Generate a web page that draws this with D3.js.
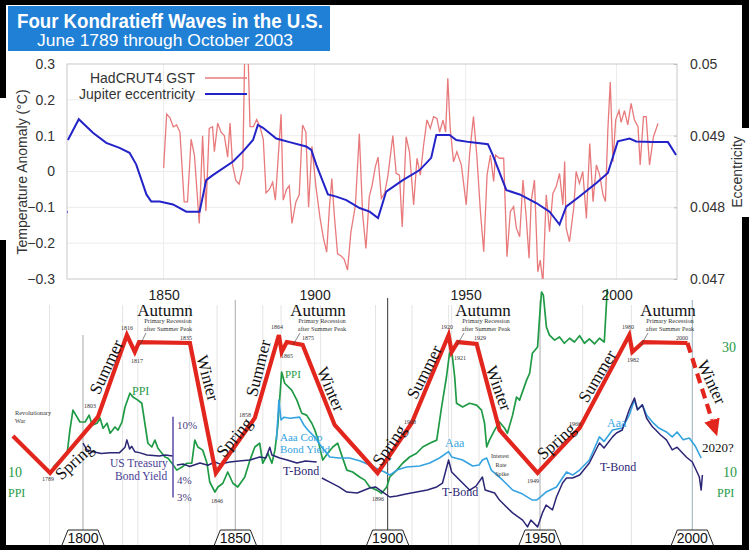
<!DOCTYPE html>
<html><head><meta charset="utf-8">
<script src="https://cdn.jsdelivr.net/npm/d3@7"></script>
<style>body{margin:0;background:#fff}svg{display:block}</style>
</head><body><svg id="c" width="749" height="550"></svg>
<script>
// ---------------- DATA ----------------
const titleText = "Four Kondratieff Waves in the U.S.";
const subtitleText = "June 1789 through October 2003";
const tempTicks = [-0.3,-0.2,-0.1,0,0.1,0.2,0.3];
const eccTicks = [0.047,0.048,0.049,0.05];
const yearTicks = [1850,1900,1950,2000];

// HadCRUT4 GST (detrended anomaly, °C)
const hadcrut = [[1850.0,0.01],[1851.0,0.16],[1852.1,0.15],[1853.2,0.125],[1854.3,0.13],[1855.4,0.11],[1856.8,-0.085],[1857.9,-0.085],[1859.1,0.09],[1860.2,0.045],[1861.8,-0.145],[1862.9,0.10],[1864.0,-0.11],[1865.1,0.12],[1866.2,0.125],[1866.8,0.055],[1867.9,0.135],[1869.0,0.11],[1870.1,0.10],[1871.2,0.04],[1872.0,0.135],[1872.8,0.02],[1873.9,-0.025],[1875.0,-0.035],[1876.2,0.01],[1877.0,0.40],[1877.8,0.38],[1878.6,0.125],[1879.7,0.125],[1880.8,0.145],[1881.9,0.125],[1883.0,0.09],[1883.9,-0.06],[1885.0,-0.05],[1886.1,-0.03],[1887.0,-0.08],[1888.9,0.16],[1889.6,-0.08],[1890.7,-0.05],[1891.6,-0.04],[1892.5,-0.145],[1893.8,-0.085],[1894.9,-0.065],[1896.0,0.13],[1897.1,0.11],[1898.0,-0.10],[1899.1,0.07],[1900.4,-0.04],[1901.8,-0.13],[1902.9,-0.185],[1904.0,-0.225],[1904.9,-0.10],[1905.7,-0.02],[1906.5,-0.12],[1907.6,-0.23],[1908.7,-0.235],[1909.8,-0.245],[1910.9,-0.275],[1912.0,-0.17],[1913.5,-0.095],[1914.8,0.105],[1915.9,-0.12],[1917.0,-0.215],[1918.1,-0.07],[1919.0,-0.04],[1920.1,0.013],[1921.0,0.04],[1922.1,-0.075],[1923.2,-0.06],[1924.3,-0.01],[1925.9,0.10],[1927.0,-0.005],[1928.1,-0.01],[1929.0,-0.155],[1930.3,0.097],[1931.4,0.055],[1932.8,-0.093],[1933.9,0.037],[1935.0,-0.01],[1936.1,0.074],[1937.2,0.144],[1938.3,0.12],[1939.4,0.153],[1940.5,0.148],[1941.4,0.11],[1942.5,0.143],[1943.4,0.11],[1944.1,0.26],[1944.9,0.12],[1946.0,0.027],[1947.1,0.055],[1948.6,0.018],[1950.2,-0.093],[1951.3,0.046],[1952.6,0.153],[1953.7,0.046],[1954.9,-0.112],[1956.0,-0.224],[1957.1,-0.01],[1958.2,0.046],[1959.3,-0.028],[1959.9,0.046],[1961.2,0.037],[1962.6,0.037],[1963.7,-0.238],[1964.8,-0.112],[1965.9,-0.098],[1966.8,-0.158],[1967.9,-0.182],[1969.0,-0.024],[1970.1,-0.131],[1971.0,-0.242],[1971.7,-0.084],[1972.8,-0.024],[1973.9,-0.28],[1974.7,-0.247],[1975.6,-0.31],[1976.7,-0.065],[1977.8,-0.168],[1978.9,-0.061],[1980.0,-0.042],[1981.1,-0.005],[1982.2,-0.093],[1982.8,0.028],[1983.3,-0.158],[1984.4,-0.196],[1985.8,-0.102],[1986.6,0.0],[1987.7,-0.033],[1988.8,0.0],[1990.0,-0.131],[1991.1,0.078],[1992.2,-0.084],[1993.3,0.018],[1994.4,-0.01],[1995.5,-0.065],[1996.3,-0.084],[1997.1,0.116],[1997.9,0.25],[1998.8,0.027],[1999.7,0.144],[2000.8,0.17],[2001.5,0.137],[2002.6,0.17],[2003.7,0.13],[2004.8,0.19],[2005.9,0.144],[2007.1,0.125],[2007.8,0.018],[2008.9,0.153],[2009.8,0.153],[2010.9,0.018],[2012.2,0.097],[2013.7,0.134]];

// Jupiter eccentricity
const jupiterStub = [[1817.6,0.04790],[1818.0,0.04795]];
const jupiter = [[1818.3,0.04894],[1821.9,0.04923],[1826.6,0.04904],[1831.0,0.04890],[1835.4,0.04883],[1838.7,0.04876],[1840.9,0.04860],[1844.3,0.04818],[1845.9,0.04808],[1848.7,0.04808],[1853.1,0.04804],[1857.5,0.04794],[1861.9,0.04794],[1864.1,0.04838],[1866.3,0.04845],[1873.0,0.04864],[1876.3,0.04878],[1879.6,0.04894],[1881.2,0.04915],[1882.9,0.04911],[1887.3,0.04896],[1891.7,0.04891],[1897.2,0.04885],[1898.9,0.04880],[1900.6,0.04859],[1904.4,0.04818],[1907.2,0.04815],[1910.5,0.04810],[1914.9,0.04799],[1918.2,0.04794],[1921.0,0.04785],[1923.7,0.04822],[1929.2,0.04838],[1934.8,0.04852],[1938.6,0.04869],[1940.3,0.04901],[1944.7,0.04901],[1946.9,0.04894],[1951.3,0.04891],[1957.4,0.04888],[1959.0,0.04873],[1963.5,0.04824],[1967.9,0.04818],[1973.4,0.04806],[1977.8,0.04794],[1981.1,0.04776],[1983.3,0.04801],[1987.7,0.04815],[1993.3,0.04834],[1997.1,0.04848],[2000.4,0.04892],[2004.3,0.04896],[2006.5,0.04892],[2012.0,0.04891],[2017.0,0.04891],[2019.7,0.04873]];

// Kondratieff wave (schematic level 0 = trough, 100 = peak)
const waveYears  = [1777.0,1789.2,1804.9,1814.4,1817.0,1818.4,1835.1,1843.6,1856.4,1864.3,1865.2,1866.9,1872.1,1882.6,1896.7,1907.9,1920.0,1921.0,1923.0,1929.2,1936.7,1949.2,1963.0,1979.3,1980.3,1983.9,1998.4];
const waveLevels = [26.8,0,40.6,100,87.7,94.9,94.2,0,39.9,100,87.7,94.9,92.8,34.8,0,36.2,100,87.7,94.9,93.5,31.2,0,32.6,100,87.7,94.9,94.2];
const waveForecast = [[1998.4,94.2],[2006.45,38.4]];

// PPI
const ppi = [[1790.2,10.8],[1791.8,11.6],[1794.8,13.0],[1795.7,16.7],[1796.7,19.9],[1799.0,18.0],[1800.7,18.0],[1802.0,19.1],[1803.0,17.5],[1804.6,17.8],[1805.6,18.6],[1806.6,17.0],[1807.9,17.8],[1808.9,16.2],[1810.5,17.2],[1811.5,16.7],[1812.8,18.0],[1813.8,20.4],[1815.4,22.6],[1816.4,22.0],[1818.0,21.5],[1819.3,21.0],[1820.3,17.8],[1821.3,14.6],[1822.6,14.0],[1823.6,15.1],[1824.6,13.8],[1825.9,13.0],[1826.9,12.4],[1827.9,12.2],[1829.2,11.4],[1830.8,10.3],[1832.5,10.8],[1834.1,11.4],[1835.7,11.4],[1836.7,15.1],[1837.7,14.0],[1839.3,13.5],[1840.7,11.4],[1841.6,8.4],[1843.3,6.8],[1844.3,7.6],[1845.9,8.2],[1847.5,10.0],[1849.2,8.2],[1850.8,7.6],[1853.1,9.2],[1854.8,11.9],[1856.4,14.0],[1858.0,14.6],[1859.0,11.4],[1860.7,13.0],[1862.0,11.4],[1863.0,13.5],[1863.9,17.2],[1865.2,26.0],[1866.2,24.2],[1868.5,23.1],[1870.2,21.5],[1871.8,19.4],[1873.4,19.1],[1875.1,17.8],[1876.1,16.7],[1877.0,15.4],[1878.7,11.9],[1880.3,13.0],[1882.0,14.0],[1883.6,14.6],[1884.9,12.7],[1886.6,10.3],[1888.5,10.0],[1890.8,9.2],[1892.5,8.7],[1894.1,7.6],[1896.4,7.1],[1898.0,6.6],[1899.7,7.6],[1900.7,9.2],[1903.0,10.3],[1904.9,11.4],[1907.2,12.4],[1909.5,13.0],[1911.5,14.0],[1913.8,14.6],[1916.1,15.1],[1917.7,20.4],[1919.3,25.2],[1920.3,29.0],[1921.0,29.5],[1922.0,25.2],[1922.6,21.0],[1924.6,20.4],[1926.9,21.0],[1929.2,20.7],[1930.8,19.9],[1931.8,17.8],[1932.5,14.0],[1933.4,15.1],[1935.1,16.7],[1936.7,18.0],[1938.4,17.0],[1939.3,16.2],[1941.0,19.1],[1942.3,22.0],[1943.3,21.5],[1945.6,24.7],[1946.6,25.8],[1947.5,29.0],[1949.2,30.0],[1949.8,34.3],[1950.5,38.8],[1951.1,38.3],[1952.1,33.2],[1953.1,31.9],[1954.8,31.1],[1956.4,31.6],[1958.0,30.6],[1959.7,31.4],[1961.3,30.8],[1963.0,31.8],[1964.6,30.6],[1966.2,31.3],[1967.9,30.5],[1969.5,31.4],[1971.1,30.8],[1972.1,39.5]];

// US Treasury bond yield (%), early series
const treasuryEarly = [[1800.0,7.4],[1801.3,6.6],[1803.3,6.4],[1806,6.2],[1808.9,6.3],[1812,6.3],[1813.8,6.9],[1814.4,7.8],[1815.3,6.7],[1816.0,7.0],[1817.0,6.4],[1818.5,6.3],[1821.0,6.06],[1825.0,5.96],[1827.0,6.06],[1829.5,5.96]];
const treasuryMid = [[1830.8,5.12],[1833,5.2],[1835,5.0],[1838.4,5.3],[1841,5.1],[1843.3,5.39],[1845,5.2],[1848.2,5.39],[1852,5.5],[1854.8,5.57],[1858.0,5.86],[1860,5.76],[1861.3,6.9],[1862,6.06],[1864.6,5.76],[1867,5.57],[1870.2,5.3],[1873,5.48],[1876.7,5.39]];
const tBond = [[1878.4,4.12],[1881,3.85],[1884,3.55],[1886.6,3.26],[1890,3.21],[1894.1,3.49],[1896,3.55],[1898.4,3.26],[1900.7,3.0],[1903,3.05],[1906,3.15],[1909.5,3.26],[1913,3.37],[1916.1,3.55],[1918,3.79],[1920.0,5.57],[1921,4.56],[1923.6,3.99],[1926.9,3.37],[1929,3.6],[1931.1,4.19],[1932,3.37],[1935.1,3.21],[1936.7,2.85],[1939.0,2.54],[1941.0,2.30],[1944.3,2.04],[1945.9,1.82],[1947,2.04],[1949.2,1.82],[1950.8,2.30],[1952,2.62],[1954.1,2.42],[1955.4,3.0],[1957.4,3.79],[1958.7,4.12],[1960.7,4.12],[1963.0,4.33],[1966.2,5.3],[1969.5,7.4],[1971,6.8],[1973.8,8.2],[1975.1,8.75],[1977,9.2],[1979.3,12.9],[1981.0,15.7],[1982,12.9],[1983.6,14.0],[1985,11.2],[1986.9,9.7],[1988,9.2],[1989.5,8.5],[1991.5,7.8],[1993.4,6.6],[1995,6.9],[1998.0,5.86],[2000,5.39],[2002.3,4.19],[2002.9,3.37],[2003.3,4.33]];
const aaaCorp = [[1863.5,7.8],[1864.3,15.2],[1865,10.9],[1866,11.4],[1868,11.2],[1871.1,11.4],[1872.5,10.0],[1873.8,9.2],[1876,8.2],[1878.4,6.9],[1881.0,5.86],[1884,5.76],[1887.5,5.76],[1891,5.48],[1894.1,5.12],[1897.4,4.71],[1899,4.56],[1900.7,4.33],[1903,4.71],[1906.2,4.96],[1910.5,5.04],[1913.8,5.3],[1917.0,5.76],[1920.0,6.4],[1921,5.86],[1924.6,5.57],[1927.9,5.04],[1930,5.12],[1931.1,5.57],[1932.5,5.76],[1934,4.71],[1937.7,3.99],[1941.0,3.37],[1944.3,3.15],[1947.5,2.85],[1948.9,2.85],[1952,3.26],[1955.4,3.55],[1958.7,4.56],[1960.7,4.33],[1963,4.71],[1966.2,5.57],[1969.5,8.2],[1971,7.6],[1973.8,9.2],[1977,9.5],[1979.3,11.8],[1981.0,15.2],[1982,12.9],[1983.6,14.0],[1985,11.8],[1986.9,10.5],[1989,9.5],[1991.5,8.9],[1993.4,8.2],[1995,8.9],[1997,7.8],[1999.0,8.05],[2001,7.0],[2002.9,5.76]];
const bondTicks = [3,4,10];
const boxYears = [1800,1850,1900,1950,2000];

// ---------------- DRAW ----------------
(function(){
const svg = d3.select('#c');
const serif = '"Liberation Serif","Times New Roman",serif';
const sans = '"Liberation Sans",Arial,Helvetica,sans-serif';
svg.append('rect').attr('width',749).attr('height',550).attr('fill','#fff');
const defs = svg.append('defs');
defs.append('clipPath').attr('id','clipTop').append('rect').attr('x',67).attr('y',64).attr('width',610).attr('height',215);
defs.append('clipPath').attr('id','clipBot').append('rect').attr('x',6).attr('y',289).attr('width',736).attr('height',256);
defs.append('marker').attr('id','arrow').attr('markerUnits','userSpaceOnUse').attr('viewBox','0 -9 18 18')
  .attr('refX',0).attr('refY',0).attr('markerWidth',18).attr('markerHeight',18).attr('orient','auto')
  .append('path').attr('d','M0,-8L17,0L0,8Z').attr('fill','#e3261d');

// ===== Bottom (Kondratieff) chart =====
const xB = d3.scaleLinear().domain([1800,1950]).range([83,540]);
const yW = d3.scaleLinear().domain([0,100]).range([473,335]);
const yP = d3.scaleLinear().domain([10,30]).range([472,347]);
const yY = d3.scaleLog().domain([3,10]).range([497,425]);

const bot = svg.append('g');
const lightGrid = [1789,1813,1818,1835,1844,1859,1865,1878,1896,1908,1920,1921,1930,1964,1980];
bot.selectAll('.lg').data(lightGrid).join('line')
  .attr('x1',d=>xB(d)).attr('x2',d=>xB(d)).attr('y1',305).attr('y2',545)
  .attr('stroke','#e4e4e4').attr('stroke-width',1);
bot.selectAll('.dg').data([1800,1850,1950,2000]).join('line')
  .attr('x1',d=>xB(d)).attr('x2',d=>xB(d)).attr('y1',d=>d===1800?335:300).attr('y2',545)
  .attr('stroke',d=>d===2000?'#a9bcc6':'#b8b8b8').attr('stroke-width',1.2);
bot.append('line').attr('x1',xB(1900)).attr('x2',xB(1900)).attr('y1',298).attr('y2',545)
  .attr('stroke','#333').attr('stroke-width',1);

const gB = bot.append('g').attr('clip-path','url(#clipBot)');
const lineP = d3.line().x(d=>xB(d[0])).y(d=>yP(d[1]));
const lineY = d3.line().x(d=>xB(d[0])).y(d=>yY(d[1]));
gB.append('path').attr('d',lineP(ppi)).attr('fill','none').attr('stroke','#1f9a45').attr('stroke-width',1.7).attr('stroke-linejoin','round');
gB.append('path').attr('d',lineY(aaaCorp)).attr('fill','none').attr('stroke','#35a3e0').attr('stroke-width',1.6).attr('stroke-linejoin','round');
[treasuryEarly,treasuryMid,tBond].forEach(s=>{
  gB.append('path').attr('d',lineY(s)).attr('fill','none').attr('stroke','#2b2675').attr('stroke-width',1.5).attr('stroke-linejoin','round');
});

// bond yield axis
bot.append('line').attr('x1',173).attr('x2',173).attr('y1',yY(11.5)).attr('y2',yY(2.98)).attr('stroke','#5a4aa8').attr('stroke-width',1.5);
bot.selectAll('.bt').data(bondTicks).join('text')
  .attr('x',177).attr('y',d=>yY(d)+4).attr('font-family',serif).attr('font-size',11).attr('fill','#4a4080')
  .text(d=>d+'%');

// red wave
const waveData = waveYears.map((y,i)=>[y,waveLevels[i]]);
const lineW = d3.line().x(d=>xB(d[0])).y(d=>yW(d[1]));
bot.append('path').attr('d',lineW(waveData)).attr('fill','none').attr('stroke','#e3261d').attr('stroke-width',4.2).attr('stroke-linejoin','miter');
bot.append('path').attr('d',lineW(waveForecast)).attr('fill','none').attr('stroke','#e3261d').attr('stroke-width',4.2)
  .attr('stroke-dasharray','10,6').attr('marker-end','url(#arrow)');

// season labels
const seasons = [
  ['Spring',74,461,-43],['Summer',106,367,-65],['Autumn',165,316,0],['Winter',208,378,75],
  ['Spring',234,437,-50],['Summer',258,368,-76],['Autumn',318,316,0],['Winter',331,389,67],
  ['Spring',389,445,-55],['Summer',424,372,-63],['Autumn',483,316,0],['Winter',499,388,70],
  ['Spring',556,441,-42],['Summer',597,376,-59],['Autumn',668,316,0],['Winter',712,382,65]
];
seasons.forEach(([t,x,y,a])=>{
  bot.append('text').attr('transform',`translate(${x},${y}) rotate(${a})`)
    .attr('text-anchor','middle').attr('dy',a===0?0:'0.35em')
    .attr('font-family',serif).attr('font-size',17).attr('fill','#111').text(t);
});
// primary recession notes
[168,322,486,670].forEach(x=>{
  bot.append('text').attr('x',x).attr('y',323).attr('text-anchor','middle').attr('font-family',serif).attr('font-size',6.3).attr('fill','#333').text('Primary Recession');
  bot.append('text').attr('x',x).attr('y',331).attr('text-anchor','middle').attr('font-family',serif).attr('font-size',6.3).attr('fill','#333').text('after Summer Peak');
});
[[146,333,140,345],[300,333,293,345],[464,333,457,345],[648,333,641,345]].forEach(([a,b,c,d])=>{
  bot.append('line').attr('x1',a).attr('y1',b).attr('x2',c).attr('y2',d).attr('stroke','#333').attr('stroke-width',0.6);
});
// tiny year labels
const tiny = [['1816',127,330],['1817',137,363],['1835',186,340],['1789',48,481],['1803',90,408],['1846',217,503],['1858',245,417],
  ['1864',277,329],['1865',287,358],['1875',308,340],['1896',378,501],['1908',410,424],
  ['1920',447,329],['1921',460,360],['1929',480,340],['1949',533,483],['1966',575,426],
  ['1980',628,329],['1982',633,362],['2000',682,340],
  ['Interest',500,458],['Rate',501,467],['Spike',502,476]];
tiny.forEach(([t,x,y])=>bot.append('text').attr('x',x).attr('y',y).attr('text-anchor','middle')
  .attr('font-family',serif).attr('font-size',6).attr('fill','#333').text(t));
bot.append('text').attr('x',15).attr('y',415).attr('font-family',serif).attr('font-size',6.3).attr('fill','#333').text('Revolutionary');
bot.append('text').attr('x',15).attr('y',423).attr('font-family',serif).attr('font-size',6.3).attr('fill','#333').text('War');

// series labels
const sLabels = [
  ['PPI',132,395,12,'#1f9a45'],['PPI',285,378,11,'#1f9a45'],
  ['US Treasury',110,467,11.5,'#4a3d94'],['Bond Yield',115,480,11.5,'#4a3d94'],
  ['Aaa Corp',280,441,11,'#35a3e0'],['Bond Yield',280,453,11,'#35a3e0'],
  ['T-Bond',283,475,12,'#2b2675'],['Aaa',445,447,12,'#35a3e0'],['T-Bond',442,496,12,'#2b2675'],
  ['Aaa',607,427,12,'#35a3e0'],['T-Bond',600,471,12,'#2b2675'],
  ['2020?',702,452,13,'#111'],
  ['30',722,352,14,'#1f9a45'],['10',723,477,14,'#1f9a45'],['PPI',717,497,12,'#1f9a45'],
  ['10',8,477,14,'#1f9a45'],['PPI',8,497,12,'#1f9a45']
];
sLabels.forEach(([t,x,y,s,c])=>bot.append('text').attr('x',x).attr('y',y)
  .attr('font-family',serif).attr('font-size',s).attr('fill',c).text(t));

// year boxes
boxYears.forEach(yr=>{
  const cx = xB(yr);
  bot.append('path').attr('d',`M${cx-21},545 L${cx-15},530 L${cx+15},530 L${cx+21},545`)
    .attr('fill','#fff').attr('stroke','#222').attr('stroke-width',1);
  bot.append('text').attr('x',cx).attr('y',543).attr('text-anchor','middle')
    .attr('font-family',sans).attr('font-size',14).attr('fill','#111').text(yr);
});

// ===== Top chart =====
const xT = d3.scaleLinear().domain([1818,2020]).range([67,677]);
const yT = d3.scaleLinear().domain([-0.3,0.3]).range([279,64]);
const yE = d3.scaleLinear().domain([0.047,0.05]).range([279,64]);
const topG = svg.append('g');
topG.append('rect').attr('x',67).attr('y',64).attr('width',610).attr('height',215).attr('fill','#fff');
topG.selectAll('.hg').data(tempTicks.slice(1,-1)).join('line')
  .attr('x1',67).attr('x2',677).attr('y1',d=>yT(d)).attr('y2',d=>yT(d)).attr('stroke','#ececec');
topG.selectAll('.vg').data(yearTicks).join('line')
  .attr('x1',d=>xT(d)).attr('x2',d=>xT(d)).attr('y1',64).attr('y2',279).attr('stroke','#ececec');
topG.append('rect').attr('x',67).attr('y',64).attr('width',610).attr('height',215).attr('fill','none').attr('stroke','#c8c8c8');

const gT = topG.append('g').attr('clip-path','url(#clipTop)');
const lineT = d3.line().x(d=>xT(d[0])).y(d=>yT(d[1]));
const lineE = d3.line().x(d=>xT(d[0])).y(d=>yE(d[1]));
gT.append('path').attr('d',lineT(hadcrut)).attr('fill','none').attr('stroke','#e87a7c').attr('stroke-width',1.3);
gT.append('path').attr('d',lineE(jupiter)).attr('fill','none').attr('stroke','#2323c8').attr('stroke-width',2);
gT.append('path').attr('d',lineE(jupiterStub)).attr('fill','none').attr('stroke','#2323c8').attr('stroke-width',2);

const axL = topG.append('g').attr('transform','translate(67,0)')
  .call(d3.axisLeft(yT).tickValues(tempTicks).tickSize(0).tickPadding(12).tickFormat(d=>d===0?'0':d3.format('.1f')(d)));
const axR = topG.append('g').attr('transform','translate(677,0)')
  .call(d3.axisRight(yE).tickValues(eccTicks).tickSize(3).tickPadding(10).tickFormat(d=>String(+d.toFixed(3))));
const axB = topG.append('g').attr('transform','translate(0,279)')
  .call(d3.axisBottom(xT).tickValues(yearTicks).tickSize(0).tickPadding(11).tickFormat(d3.format('d')));
[axL,axR,axB].forEach(a=>{
  a.select('.domain').remove();
  a.selectAll('text').attr('font-family',sans).attr('font-size',14).attr('fill','#333');
  a.selectAll('line').attr('stroke','#bbb');
});
axR.selectAll('line').attr('x2',-3);
axB.selectAll('text').attr('fill','#222');

topG.append('text').attr('transform','translate(27,172) rotate(-90)').attr('text-anchor','middle')
  .attr('font-family',sans).attr('font-size',14).attr('fill','#333').text('Temperature Anomaly (°C)');
topG.append('text').attr('transform','translate(742,172) rotate(-90)').attr('text-anchor','middle')
  .attr('font-family',sans).attr('font-size',14).attr('fill','#333').text('Eccentricity');

// legend
const legend = [['HadCRUT4 GST','#e87a7c',1.3,78],['Jupiter eccentricity','#2323c8',2,94]];
legend.forEach(([t,c,w,y])=>{
  topG.append('text').attr('x',195).attr('y',y+5).attr('text-anchor','end').attr('font-family',sans)
    .attr('font-size',14).attr('fill','#333').text(t);
  topG.append('line').attr('x1',205).attr('x2',247).attr('y1',y).attr('y2',y).attr('stroke',c).attr('stroke-width',w);
});

// ===== Title =====
svg.append('rect').attr('x',8).attr('y',6).attr('width',322).attr('height',45).attr('fill','#1f80d6');
svg.append('text').attr('x',17).attr('y',28).attr('font-family',sans).attr('font-weight','bold').attr('font-size',21)
  .attr('fill','#fff').attr('textLength',306).attr('lengthAdjust','spacingAndGlyphs').text(titleText);
svg.append('text').attr('x',37).attr('y',46).attr('font-family',sans).attr('font-size',16)
  .attr('fill','#fff').attr('textLength',256).attr('lengthAdjust','spacingAndGlyphs').text(subtitleText);

// ===== Frame =====
[[0,0,749,5],[0,0,6,98],[0,240,6,310],[742,0,7,128],[742,217,7,333],[0,545,749,5]].forEach(([x,y,w,h])=>{
  svg.append('rect').attr('x',x).attr('y',y).attr('width',w).attr('height',h).attr('fill','#000');
});
})();
</script></body></html>
